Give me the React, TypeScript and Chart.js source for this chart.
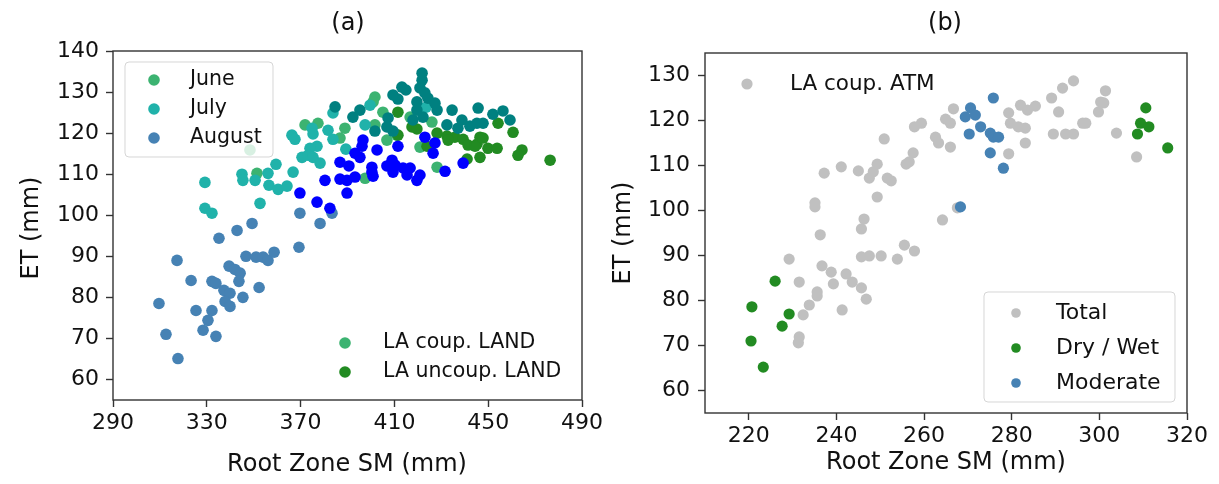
import React, { useEffect, useRef } from "react";
import { Chart, registerables } from "chart.js";
Chart.register(...registerables);

const FONT = "'DejaVu Sans', 'Noto Sans', sans-serif";

// ---------- Panel (a) data: [Root Zone SM (mm), ET (mm)] ----------
const aXTicks = [290, 330, 370, 410, 450, 490];
const aYTicks = [60, 70, 80, 90, 100, 110, 120, 130, 140];

const juneCoup: [number, number][] = [
  [388.9, 121.2], [371.9, 122.0], [377.4, 122.4], [386.8, 118.8], [351.4, 110.2],
  [348.4, 115.9], [401.7, 128.8], [400.9, 127.6], [405.1, 125.1], [401.7, 122.0],
  [416.7, 123.9], [426.0, 122.7], [406.8, 118.3], [411.1, 119.5], [428.2, 111.7],
  [420.9, 116.6], [397.5, 109.0],
];
const julyCoup: [number, number][] = [
  [383.8, 124.9], [366.3, 119.5], [367.6, 118.5], [374.9, 121.2], [375.3, 119.8],
  [381.7, 120.7], [383.8, 118.5], [389.3, 116.1], [377.0, 116.8], [374.0, 116.3],
  [370.6, 114.1], [373.2, 114.6], [375.3, 114.1], [378.3, 112.7], [359.5, 112.4],
  [366.8, 110.5], [356.1, 110.2], [345.0, 110.0], [345.4, 108.5], [350.6, 108.5],
  [356.5, 107.3], [360.4, 106.3], [364.2, 107.1], [329.2, 108.0], [352.7, 102.9],
  [329.2, 101.7], [332.2, 100.5], [423.5, 126.3], [399.6, 126.8], [397.5, 122.0],
];
const augustCoup: [number, number][] = [
  [369.7, 100.5], [383.4, 100.5], [378.3, 98.0], [349.3, 98.0], [342.9, 96.3],
  [335.2, 94.4], [369.3, 92.2], [346.7, 90.0], [351.0, 89.8], [354.0, 89.8],
  [356.1, 89.0], [358.7, 91.0], [317.3, 89.0], [339.5, 87.6], [342.0, 86.8],
  [344.2, 85.9], [343.7, 83.9], [323.3, 84.1], [332.2, 83.9], [333.9, 83.4],
  [337.3, 81.7], [339.9, 81.0], [352.3, 82.4], [345.4, 80.0], [309.6, 78.5],
  [337.8, 79.0], [339.9, 77.8], [325.4, 76.8], [332.2, 76.8], [330.5, 74.4],
  [328.4, 72.0], [333.9, 70.5], [312.6, 71.0], [317.7, 65.1],
];
const juneUncoup: [number, number][] = [
  [411.5, 125.1], [411.5, 119.5], [417.5, 121.5], [419.6, 121.0], [454.2, 122.4],
  [428.2, 120.0], [432.4, 119.3], [435.8, 119.0], [432.9, 118.3], [439.3, 118.5],
  [441.4, 117.1], [445.2, 117.3], [446.5, 119.0], [447.8, 118.8], [444.4, 116.8],
  [449.9, 116.3], [453.8, 116.3], [460.6, 120.2], [464.4, 115.9], [462.7, 114.6],
  [476.4, 113.4], [446.5, 114.1], [441.0, 113.7], [423.9, 116.8],
];
const julyUncoup: [number, number][] = [
  [384.7, 126.4], [421.8, 134.6], [421.8, 132.9], [413.2, 131.2], [414.9, 130.5],
  [409.4, 129.3], [411.5, 128.3], [420.9, 131.0], [423.0, 129.8], [424.3, 128.5],
  [419.6, 127.6], [427.3, 127.3], [428.2, 125.6], [419.6, 125.6], [422.2, 123.9],
  [417.9, 123.2], [395.3, 125.6], [392.3, 123.9], [407.3, 123.7], [401.7, 120.5],
  [406.8, 121.5], [409.4, 120.5], [434.6, 125.6], [445.7, 126.1], [452.0, 124.6],
  [456.3, 125.4], [459.3, 123.2], [438.8, 123.2], [442.2, 121.7], [445.2, 122.4],
  [447.8, 122.4], [432.4, 122.0], [437.1, 121.2],
];
const augustUncoup: [number, number][] = [
  [386.8, 112.9], [390.6, 112.0], [380.4, 108.5], [386.8, 108.8], [389.8, 108.5],
  [389.8, 105.4], [369.7, 105.4], [377.0, 103.2], [382.5, 101.7], [423.0, 119.0],
  [427.3, 117.6], [426.5, 115.1], [431.6, 110.7], [411.5, 116.8], [402.6, 115.9],
  [396.6, 118.3], [396.2, 116.8], [393.2, 115.1], [395.3, 114.1], [400.4, 111.7],
  [400.4, 110.5], [400.9, 109.5], [406.8, 112.0], [409.0, 113.4], [410.3, 112.2],
  [409.4, 110.5], [413.7, 111.5], [416.7, 111.5], [415.4, 109.8], [419.6, 108.5],
  [420.9, 109.8], [393.2, 109.3], [439.3, 112.7],
];

// ---------- Panel (b) data ----------
const bXTicks = [220, 240, 260, 280, 300, 320];
const bYTicks = [60, 70, 80, 90, 100, 110, 120, 130];

const totalPts: [number, number][] = [
  [237.2, 108.3], [241.1, 109.7], [245.0, 108.8], [247.5, 107.2], [248.4, 108.6],
  [249.3, 110.3], [250.9, 115.9], [251.6, 107.2], [252.5, 106.6], [249.3, 103.0],
  [255.9, 110.3], [256.6, 110.8], [257.5, 112.8], [257.8, 118.6], [259.4, 119.4],
  [235.1, 101.7], [235.1, 100.8], [246.3, 98.1], [245.7, 95.9], [236.3, 94.6],
  [264.2, 97.9], [266.7, 122.6], [264.9, 120.3], [266.0, 119.4], [262.6, 116.3],
  [263.3, 115.0], [266.0, 114.1], [279.3, 121.7], [282.0, 123.4], [283.6, 122.3],
  [285.4, 123.2], [279.7, 119.4], [281.5, 118.6], [283.1, 118.3], [283.1, 115.0],
  [279.3, 112.6], [289.1, 125.0], [291.6, 127.2], [294.1, 128.8], [290.7, 121.9],
  [289.5, 117.0], [292.3, 117.0], [294.1, 117.0], [296.2, 119.4], [296.9, 119.4],
  [301.4, 126.6], [300.3, 124.1], [301.0, 123.9], [299.8, 121.9], [303.9, 117.2],
  [308.5, 111.9], [267.6, 100.6], [229.2, 89.2], [236.7, 87.7], [238.8, 86.3],
  [239.3, 83.7], [242.2, 85.9], [243.6, 84.1], [245.7, 82.8], [246.8, 80.3],
  [235.6, 81.9], [235.6, 81.0], [233.8, 79.0], [231.5, 84.1], [232.4, 76.8],
  [241.3, 77.9], [231.5, 71.9], [231.3, 70.6], [245.7, 89.7], [247.5, 89.9],
  [250.2, 89.9], [253.9, 89.2], [255.5, 92.3], [257.8, 91.0],
];
const dryWetPts: [number, number][] = [
  [310.6, 122.8], [309.4, 119.4], [311.3, 118.6], [308.7, 117.0], [315.6, 113.9],
  [226.0, 84.3], [220.7, 78.6], [229.2, 77.0], [227.6, 74.3], [220.5, 71.0],
  [223.3, 65.2],
];
const moderatePts: [number, number][] = [
  [275.8, 125.0], [270.6, 122.8], [269.4, 120.8], [271.7, 121.2], [272.9, 118.6],
  [270.3, 117.0], [275.1, 117.2], [275.8, 116.3], [277.0, 116.3], [275.1, 112.8],
  [278.1, 109.4], [268.3, 100.8],
];

const C = {
  june: "#3CB371",
  july: "#20B2AA",
  august: "#4682B4",
  forest: "#228B22",
  teal: "#008080",
  blue: "#0000FF",
  silver: "#C0C0C0",
};

type Legend = {
  box?: [number, number, number, number];
  x: number;
  textX: number;
  rows: number[];
  r: number;
  size: number;
  items: { label: string; color: string }[];
};

type Decor = {
  title: string;
  titlePos: [number, number];
  xTitlePos: [number, number];
  yTitlePos: [number, number];
  legends: Legend[];
};

function decorPlugin(d: Decor) {
  return {
    id: "decor",
    afterDatasetsDraw(chart: any) {
      const ctx = chart.ctx as CanvasRenderingContext2D;
      const a = chart.chartArea;
      ctx.save();
      ctx.strokeStyle = "#333";
      ctx.lineWidth = 1.4;
      ctx.strokeRect(a.left, a.top, a.right - a.left, a.bottom - a.top);
      for (const lg of d.legends) {
        if (lg.box) {
          const [bx, by, bw, bh] = lg.box;
          ctx.beginPath();
          (ctx as any).roundRect(bx, by, bw, bh, 4);
          ctx.fillStyle = "rgba(255,255,255,0.8)";
          ctx.fill();
          ctx.strokeStyle = "rgba(204,204,204,0.8)";
          ctx.lineWidth = 1;
          ctx.stroke();
        }
        lg.items.forEach((it, i) => {
          const y = lg.rows[i];
          ctx.beginPath();
          ctx.arc(lg.x, y, lg.r, 0, Math.PI * 2);
          ctx.fillStyle = it.color;
          ctx.fill();
          ctx.fillStyle = "#111";
          ctx.font = `${lg.size}px ${FONT}`;
          ctx.textAlign = "left";
          ctx.textBaseline = "middle";
          ctx.fillText(it.label, lg.textX, y);
        });
      }
      ctx.fillStyle = "#111";
      ctx.textAlign = "center";
      ctx.textBaseline = "middle";
      ctx.font = `24px ${FONT}`;
      ctx.fillText(d.title, d.titlePos[0], d.titlePos[1]);
      ctx.fillText("Root Zone SM (mm)", d.xTitlePos[0], d.xTitlePos[1]);
      ctx.save();
      ctx.translate(d.yTitlePos[0], d.yTitlePos[1]);
      ctx.rotate(-Math.PI / 2);
      ctx.fillText("ET (mm)", 0, 0);
      ctx.restore();
      ctx.restore();
    },
  };
}

function toXY(p: [number, number][]) {
  return p.map(([x, y]) => ({ x, y }));
}

function ds(label: string, pts: [number, number][], color: string, r: number) {
  return {
    label,
    data: toXY(pts),
    backgroundColor: color,
    borderWidth: 0,
    pointRadius: r,
    pointHoverRadius: r,
  };
}

function scales(
  xMin: number, xMax: number, xTicks: number[],
  yMin: number, yMax: number, yTicks: number[],
  yWidth: number, xHeight: number, yPad: number
) {
  const grid = { drawOnChartArea: false, drawTicks: true, tickLength: 7, tickColor: "#333", tickWidth: 1.4 };
  const tickFont = { family: FONT, size: 22 };
  return {
    x: {
      type: "linear",
      min: xMin,
      max: xMax,
      afterBuildTicks: (s: any) => { s.ticks = xTicks.map((v) => ({ value: v })); },
      afterFit: (s: any) => { s.height = xHeight; },
      grid,
      border: { display: false },
      ticks: { font: tickFont, color: "#111", padding: 3, maxRotation: 0, autoSkip: false },
    },
    y: {
      type: "linear",
      min: yMin,
      max: yMax,
      afterBuildTicks: (s: any) => { s.ticks = yTicks.map((v) => ({ value: v })); },
      afterFit: (s: any) => { s.width = yWidth; },
      grid,
      border: { display: false },
      ticks: { font: tickFont, color: "#111", padding: yPad, autoSkip: false },
    },
  };
}

function PanelA() {
  const ref = useRef<HTMLCanvasElement>(null);
  useEffect(() => {
    const chart = new Chart(ref.current!, {
      type: "scatter",
      data: {
        datasets: [
          ds("August uncoup", augustUncoup, C.blue, 5.8),
          ds("July uncoup", julyUncoup, C.teal, 5.8),
          ds("June uncoup", juneUncoup, C.forest, 5.8),
          ds("August", augustCoup, C.august, 5.8),
          ds("July", julyCoup, C.july, 5.8),
          ds("June", juneCoup, C.june, 5.8),
        ],
      } as any,
      options: {
        animation: false,
        responsive: false,
        events: [],
        layout: { padding: { left: 0, top: 51, right: 28, bottom: 0 } },
        plugins: { legend: { display: false }, tooltip: { enabled: false } },
        scales: scales(290, 490, aXTicks, 55, 140, aYTicks, 113, 84, 7) as any,
      },
      plugins: [
        decorPlugin({
          title: "(a)",
          titlePos: [348, 24],
          xTitlePos: [347, 465],
          yTitlePos: [32, 228],
          legends: [
            {
              box: [125, 62, 148, 95],
              x: 154, textX: 190, rows: [80, 109, 138], r: 5.8, size: 20.5,
              items: [
                { label: "June", color: C.june },
                { label: "July", color: C.july },
                { label: "August", color: C.august },
              ],
            },
            {
              x: 345, textX: 383, rows: [343, 372], r: 5.8, size: 20.5,
              items: [
                { label: "LA coup. LAND", color: C.june },
                { label: "LA uncoup. LAND", color: C.forest },
              ],
            },
          ],
        }),
      ],
    });
    return () => chart.destroy();
  }, []);
  return <canvas ref={ref} width={610} height={484} style={{ position: "absolute", left: 0, top: 0 }} />;
}

function PanelB() {
  const ref = useRef<HTMLCanvasElement>(null);
  useEffect(() => {
    const chart = new Chart(ref.current!, {
      type: "scatter",
      data: {
        datasets: [
          ds("Moderate", moderatePts, C.august, 5.6),
          ds("Dry / Wet", dryWetPts, C.forest, 5.6),
          ds("Total", totalPts, C.silver, 5.6),
        ],
      } as any,
      options: {
        animation: false,
        responsive: false,
        events: [],
        layout: { padding: { left: 0, top: 53, right: 32, bottom: 0 } },
        plugins: { legend: { display: false }, tooltip: { enabled: false } },
        scales: scales(210, 320, bXTicks, 55, 135, bYTicks, 95, 71, 8) as any,
      },
      plugins: [
        decorPlugin({
          title: "(b)",
          titlePos: [335, 24],
          xTitlePos: [336, 463],
          yTitlePos: [14, 233],
          legends: [
            {
              x: 137, textX: 180, rows: [84], r: 5.6, size: 21.5,
              items: [{ label: "LA coup. ATM", color: C.silver }],
            },
            {
              box: [374, 292, 191, 110],
              x: 406, textX: 446, rows: [313, 348, 383], r: 4.8, size: 22,
              items: [
                { label: "Total", color: C.silver },
                { label: "Dry / Wet", color: C.forest },
                { label: "Moderate", color: C.august },
              ],
            },
          ],
        }),
      ],
    });
    return () => chart.destroy();
  }, []);
  return <canvas ref={ref} width={609} height={484} style={{ position: "absolute", left: 610, top: 0 }} />;
}

export default function App() {
  return (
    <div style={{ position: "absolute", left: 0, top: 0, width: 1219, height: 484, background: "#fff", overflow: "hidden" }}>
      <PanelA />
      <PanelB />
    </div>
  );
}
